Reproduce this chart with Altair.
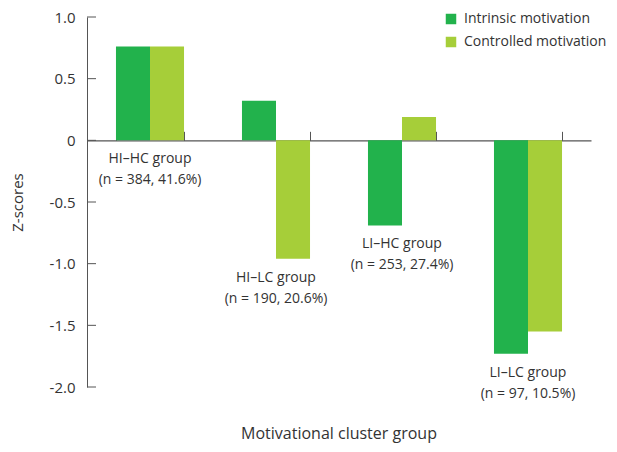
import altair as alt
import pandas as pd

groups = ["HI–HC group", "HI–LC group", "LI–HC group", "LI–LC group"]
sample_info = ["(n = 384, 41.6%)", "(n = 190, 20.6%)", "(n = 253, 27.4%)", "(n = 97, 10.5%)"]
series = ["Intrinsic motivation", "Controlled motivation"]
intrinsic = [0.76, 0.32, -0.69, -1.73]
controlled = [0.76, -0.96, 0.19, -1.55]
y_ticks = [1.0, 0.5, 0.0, -0.5, -1.0, -1.5, -2.0]
colors = ["#22B24C", "#A6CE39"]

rows = []
for g, a, b in zip(groups, intrinsic, controlled):
    rows.append({"group": g, "series": series[0], "value": a})
    rows.append({"group": g, "series": series[1], "value": b})
bars_df = pd.DataFrame(rows)

labels_df = pd.DataFrame({
    "group": groups,
    "label": [[g, s] for g, s in zip(groups, sample_info)],
    "ypos": [min(a, b, 0.0) for a, b in zip(intrinsic, controlled)],
})
ticks_df = pd.DataFrame({"v": y_ticks})

W, H = 504, 370
ydom = [-2.0, 1.0]
zero_px = H * (ydom[1] - 0) / (ydom[1] - ydom[0])
FONT = "Open Sans"
TXT = "#333333"
AX = "#555555"

yscale = alt.Scale(domain=ydom, nice=False, zero=False)
xscale = alt.Scale(domain=groups, paddingInner=0.46, paddingOuter=0.23)

bars = alt.Chart(bars_df).mark_bar().encode(
    x=alt.X("group:N", scale=xscale, sort=groups,
            axis=alt.Axis(orient="top", offset=-zero_px, labels=False, title=None,
                          tickBand="extent", tickSize=9, tickColor=AX,
                          domainColor=AX, domainWidth=1.2, grid=False)),
    xOffset=alt.XOffset("series:N", sort=series,
                        scale=alt.Scale(paddingInner=0, paddingOuter=0)),
    y=alt.Y("value:Q", scale=yscale,
            axis=alt.Axis(values=y_ticks, ticks=False, domainColor=AX,
                          labelPadding=12, labelFontSize=15, labelFont=FONT,
                          labelColor=TXT, grid=False,
                          labelExpr="datum.value == 0 ? '0' : (datum.value < 0 ? '-' : '') + format(abs(datum.value), '.1f')",
                          title="Z-scores", titleFont=FONT, titleFontSize=15,
                          titleFontWeight="normal", titleColor=TXT, titlePadding=24)),
    color=alt.Color("series:N", sort=series,
                    scale=alt.Scale(domain=series, range=colors),
                    legend=alt.Legend(title=None, orient="none", legendX=357, legendY=-5,
                                      symbolType="square", symbolSize=110,
                                      symbolStrokeWidth=0, labelFont=FONT,
                                      labelFontSize=14, labelColor=TXT,
                                      rowPadding=9, labelOffset=6, padding=0,
                                      labelLimit=200)),
)

yticks = alt.Chart(ticks_df).mark_rule(color=AX, strokeWidth=1).encode(
    y=alt.Y("v:Q", scale=yscale),
    x=alt.value(0),
    x2=alt.value(9),
)

labels = alt.Chart(labels_df).mark_text(
    font=FONT, fontSize=14, color=TXT, baseline="top", align="center",
    dy=12, lineHeight=21,
).encode(
    x=alt.X("group:N", scale=xscale, sort=groups),
    y=alt.Y("ypos:Q", scale=yscale),
    text="label",
)

chart = alt.layer(bars, yticks, labels).properties(
    width=W, height=H,
    autosize=alt.AutoSizeParams(type="none"),
    padding={"left": 79, "top": 9, "right": 18, "bottom": 57},
    title=alt.TitleParams("Motivational cluster group", orient="bottom",
                          font=FONT, fontSize=16, fontWeight="normal",
                          color=TXT, offset=25),
).configure_view(stroke=None)

chart.save("out.html", embed_options={"renderer": "svg", "actions": False})
